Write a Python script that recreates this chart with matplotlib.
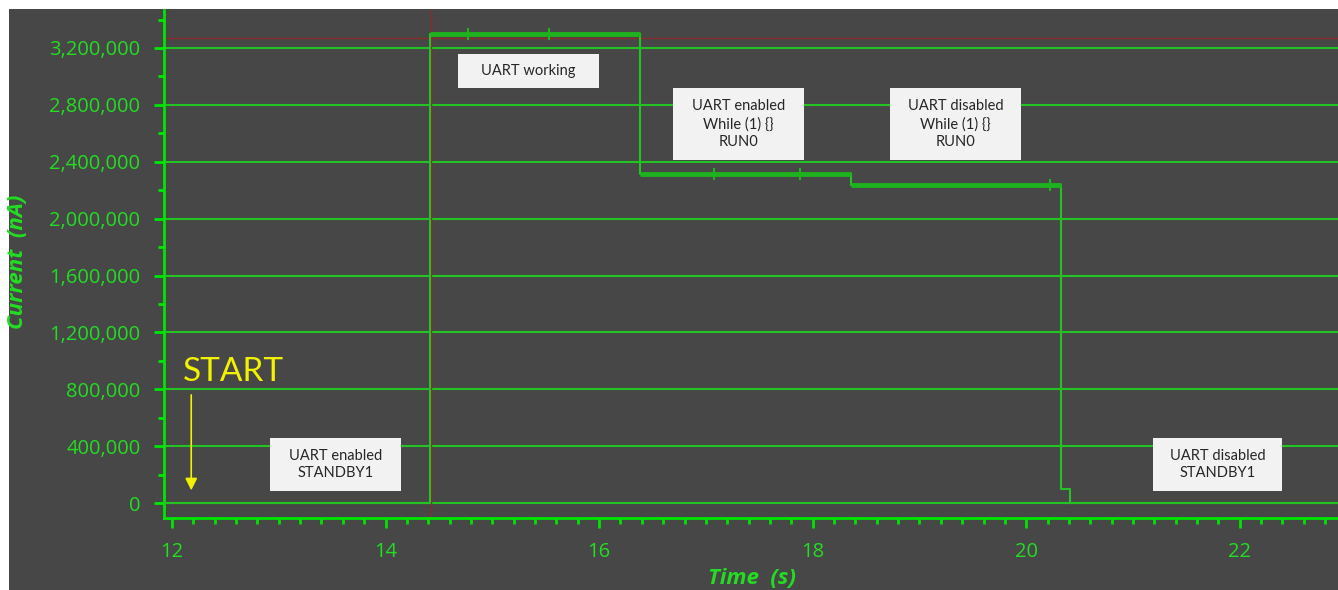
import numpy as np
import matplotlib.pyplot as plt
from matplotlib.patches import Rectangle
from matplotlib.ticker import FuncFormatter, MultipleLocator

# Current trace (steps)
step_time = [11.93, 14.42, 16.38, 18.36, 20.33, 20.41, 22.95]
step_current = [0, 3295000, 2315000, 2235000, 100000, 0, 0]

# small glitches on the active levels
spike_time = [14.77, 15.53, 17.08, 17.88, 20.22]
spike_level = [3295000, 3295000, 2315000, 2315000, 2235000]
spike_size = 35000

# cursor (red marker lines)
cursor_time = 14.43
cursor_current = 3270000

# annotation boxes: text, box in pixels (x0, y0, x1, y1)
notes = ["UART working",
         "UART enabled\nWhile (1) {}\nRUN0",
         "UART disabled\nWhile (1) {}\nRUN0",
         "UART enabled\nSTANDBY1",
         "UART disabled\nSTANDBY1"]
note_boxes = [(458, 54, 599, 88),
              (673, 88, 804, 160),
              (890, 88, 1021, 160),
              (270, 438, 401, 491),
              (1153, 438, 1282, 491)]

W, H = 1338, 590
bg = '#474747'
green = '#22dd22'
grid_green = '#22c322'
trace_green = '#1fb21f'

fig = plt.figure(figsize=(W / 100, H / 100), dpi=100)
fig.patch.set_facecolor('white')
fig.patches.append(Rectangle((9 / W, 0), 1, (H - 9) / H, transform=fig.transFigure,
                             facecolor=bg, edgecolor='none', zorder=-10))

ax_l, ax_r, ax_t, ax_b = 164, 1338, 10, 518
ax = fig.add_axes([ax_l / W, (H - ax_b) / H, (ax_r - ax_l) / W, (ax_b - ax_t) / H])
ax.set_facecolor(bg)
ax.set_xlim(11.925, 22.92)
ax.set_ylim(-105000, 3467000)

# grid
ax.yaxis.set_major_locator(MultipleLocator(400000))
ax.yaxis.set_minor_locator(MultipleLocator(200000))
ax.xaxis.set_major_locator(MultipleLocator(2))
ax.xaxis.set_minor_locator(MultipleLocator(0.2))
ax.grid(axis='y', which='major', color=grid_green, lw=1.5)
ax.set_axisbelow(True)

# red cursor lines
ax.axvline(cursor_time, color='#8a2c2c', lw=1, zorder=1)
ax.axhline(cursor_current, color='#8a2c2c', lw=1, zorder=1)

# trace
ax.step(step_time, step_current, where='post', color=grid_green, lw=1.5, zorder=3)
for i in range(1, 4):
    ax.plot([step_time[i], step_time[i + 1]], [step_current[i]] * 2,
            color=trace_green, lw=3.5, solid_capstyle='butt', zorder=4)
for t, lv in zip(spike_time, spike_level):
    ax.plot([t, t], [lv - spike_size, lv + spike_size], color=trace_green, lw=1.5, zorder=4)

# spines/ticks
for s in ['top', 'right']:
    ax.spines[s].set_visible(False)
for s in ['left', 'bottom']:
    ax.spines[s].set_color('#00e600')
    ax.spines[s].set_linewidth(2)
ax.tick_params(axis='both', which='major', color='#00e600', width=2, length=7,
               labelcolor=green, labelsize=14.5, pad=10)
ax.tick_params(axis='both', which='minor', color='#00e600', width=2, length=4)
ax.yaxis.set_major_formatter(FuncFormatter(lambda v, p: f'{int(round(v)):,}'))
for lab in ax.get_xticklabels() + ax.get_yticklabels():
    lab.set_family('Open Sans')

fig.text(752 / W, 1 - 579 / H, 'Time  (s)', color=green, fontsize=16, weight='bold',
         style='italic', ha='center', va='center', family='Open Sans')
fig.text(18 / W, 1 - 262 / H, 'Current  (nA)', color=green, fontsize=16, weight='bold',
         style='italic', ha='center', va='center', rotation=90, family='Open Sans')

# annotation boxes
for txt, (x0, y0, x1, y1) in zip(notes, note_boxes):
    fig.patches.append(Rectangle((x0 / W, 1 - y1 / H), (x1 - x0) / W, (y1 - y0) / H,
                                 transform=fig.transFigure, facecolor='#f2f2f2',
                                 edgecolor='none', zorder=5))
    fig.text((x0 + x1) / 2 / W, 1 - (y0 + y1) / 2 / H, txt, ha='center', va='center',
             color='#262626', fontsize=10.5, family='Lato', linespacing=1.35, zorder=6)

# START marker
fig.text(183 / W, 1 - 372 / H, 'START', color='#f2f200', fontsize=24, family='Lato',
         ha='left', va='center')
ax.annotate('', xy=(12.18, 70000), xytext=(12.18, 780000),
            arrowprops=dict(arrowstyle='-|>', color='#f2f200', lw=1.2,
                            mutation_scale=18))

fig.savefig('out.png', dpi=100, facecolor=fig.get_facecolor())
